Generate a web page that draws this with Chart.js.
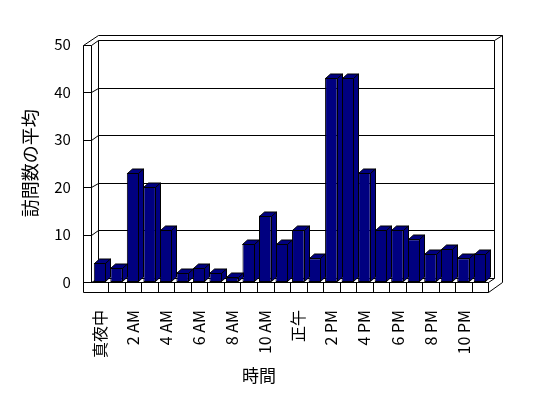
<!DOCTYPE html>
<html>
<head>
<meta charset="utf-8">
<script src="https://cdn.jsdelivr.net/npm/chart.js@4/dist/chart.umd.min.js"></script>
<style>
  html, body { margin: 0; padding: 0; background: #fff; }
  canvas { display: block; }
</style>
</head>
<body>
<canvas id="chart" width="548" height="398"></canvas>
<script>
// hours of the day (every other one is labelled on the axis)
const hours = ["真夜中","1 AM","2 AM","3 AM","4 AM","5 AM","6 AM","7 AM","8 AM","9 AM","10 AM","11 AM",
               "正午","1 PM","2 PM","3 PM","4 PM","5 PM","6 PM","7 PM","8 PM","9 PM","10 PM","11 PM"];
const visits = [4,3,23,20,11,2,3,2,1,8,14,8,11,5,43,43,23,11,11,9,6,7,5,6];
const yTicks = [0,10,20,30,40,50];
const yTitle = "訪問数の平均";
const xTitle = "時間";

const FONT = "'Noto Sans CJK JP', 'Noto Sans', sans-serif";
const NAVY = "#000080";

function line(ctx, x1, y1, x2, y2){
    ctx.beginPath();
    ctx.moveTo(Math.round(x1)+0.5, Math.round(y1)+0.5);
    ctx.lineTo(Math.round(x2)+0.5, Math.round(y2)+0.5);
    ctx.stroke();
}

// walls, floor and gridlines of the 3d box
const frame3d = {
    id: "frame3d",
    beforeDatasetsDraw(chart){
        const ctx = chart.ctx, ca = chart.chartArea, ys = chart.scales.y;
        const L = ca.left, R = ca.right;
        const Y0 = ys.getPixelForValue(0), Y50 = ys.getPixelForValue(50);
        const xOut = L - 9, xIn = L - 0.5, xB = xIn + 6.7, dy = -4.5;
        const xBR = R + 6, xOR = R + 13.4;
        ctx.save();
        ctx.strokeStyle = "#000";
        ctx.lineWidth = 1;
        // gridlines + ticks
        yTicks.forEach(v=>{
            const y = ys.getPixelForValue(v);
            line(ctx, xOut, y, xIn, y);
            line(ctx, xIn, y, xB, y + dy);
            line(ctx, xB, y + dy, xBR, y + dy);
        });
        // left wall
        line(ctx, xOut, Y50, xOut, Y0 + 9.5);
        line(ctx, xIn, Y50, xIn, Y0);
        line(ctx, xB, Y50 + dy, xB, Y0 + dy);
        line(ctx, xOut, Y50, xB, Y50 - 10);
        // back wall
        line(ctx, xB, Y50 - 10, xOR, Y50 - 10);
        line(ctx, xBR, Y50 + dy, xOR, Y50 - 10);
        line(ctx, xBR, Y50 + dy, xBR, Y0 + dy);
        line(ctx, xOR, Y50 - 10, xOR, Y0);
        // floor
        line(ctx, xOut, Y0, R, Y0);
        line(ctx, xOut, Y0 + 9.5, R, Y0 + 9.5);
        line(ctx, R, Y0, R, Y0 + 9.5);
        line(ctx, R, Y0, xBR, Y0 + dy);
        line(ctx, R, Y0 + 9.5, xOR, Y0);
        const cw = (R - L) / hours.length;
        for (let i = 1; i < hours.length; i++){
            line(ctx, L + i * cw, Y0, L + i * cw, Y0 + 9.5);
        }
        ctx.restore();
    },
    afterDatasetsDraw(chart){
        const ctx = chart.ctx;
        const meta = chart.getDatasetMeta(0);
        const dx = 5, dy = -4.5;
        ctx.save();
        ctx.fillStyle = NAVY;
        ctx.strokeStyle = "#000";
        ctx.lineWidth = 1;
        ctx.lineJoin = "miter";
        meta.data.forEach(bar=>{
            const p = bar.getProps(["x","y","base","width"], true);
            const l = Math.round(p.x - p.width/2) + 0.5, r = Math.round(p.x + p.width/2) - 0.5;
            const t = Math.round(p.y) + 0.5, b = Math.round(p.base) - 0.5;
            // top
            ctx.beginPath();
            ctx.moveTo(l, t); ctx.lineTo(r, t); ctx.lineTo(r + dx, t + dy); ctx.lineTo(l + dx, t + dy);
            ctx.closePath(); ctx.fill(); ctx.stroke();
            // side
            ctx.beginPath();
            ctx.moveTo(r, t); ctx.lineTo(r + dx, t + dy); ctx.lineTo(r + dx, b + dy); ctx.lineTo(r, b);
            ctx.closePath(); ctx.fill(); ctx.stroke();
        });
        ctx.restore();
    },
    afterDraw(chart){
        const ctx = chart.ctx;
        ctx.save();
        ctx.fillStyle = "#000";
        ctx.font = "17px " + FONT;
        ctx.textAlign = "center";
        ctx.textBaseline = "middle";
        ctx.fillText(xTitle, 259, 376);
        ctx.restore();
    }
};

new Chart(document.getElementById("chart"), {
    type: "bar",
    data: {
        labels: hours,
        datasets: [{
            data: visits,
            backgroundColor: NAVY,
            borderColor: "#000",
            borderWidth: 1,
            borderSkipped: false,
            categoryPercentage: 0.76,
            barPercentage: 1
        }]
    },
    options: {
        responsive: false,
        animation: false,
        events: [],
        layout: { padding: { top: 44.5, right: 59.7, bottom: 0, left: 0 } },
        plugins: { legend: { display: false }, tooltip: { enabled: false } },
        scales: {
            x: {
                grid: { display: false },
                border: { display: false },
                ticks: {
                    autoSkip: false,
                    minRotation: 90,
                    maxRotation: 90,
                    padding: 20,
                    color: "#000",
                    font: { family: FONT, size: 16 },
                    callback: (v, i) => i % 2 === 0 ? hours[i] : ""
                },
                afterFit(scale){ scale.height = 116; }
            },
            y: {
                min: 0,
                max: 50,
                grid: { display: false, drawTicks: false },
                border: { display: false },
                ticks: {
                    stepSize: 10,
                    padding: 21,
                    color: "#000",
                    font: { family: FONT, size: 15 }
                },
                title: {
                    display: true,
                    text: yTitle,
                    color: "#000",
                    font: { family: FONT, size: 18 },
                    padding: { top: 19, bottom: 0 }
                },
                afterFit(scale){ scale.width = 91.8; }
            }
        }
    },
    plugins: [frame3d]
});
</script>
</body>
</html>
